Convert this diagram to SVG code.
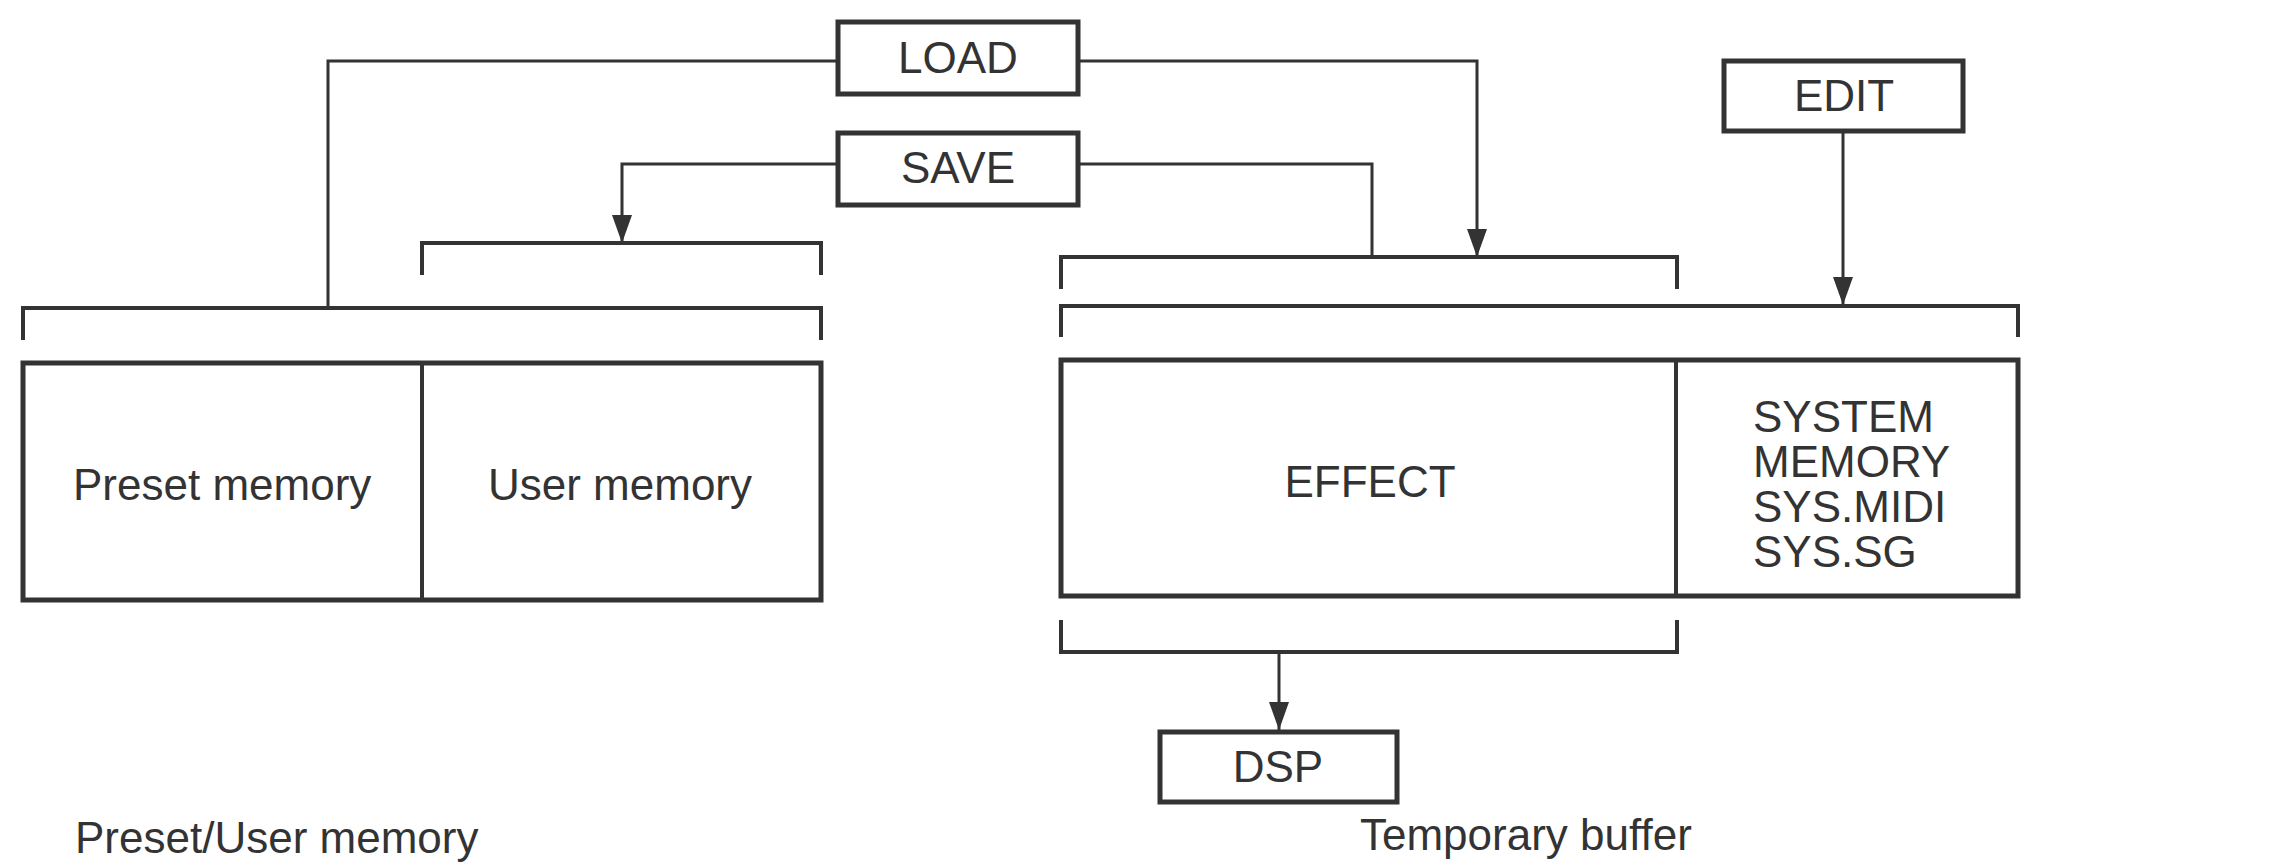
<svg xmlns="http://www.w3.org/2000/svg" width="2294" height="864" viewBox="0 0 2294 864">
<style>
  .box { fill: none; stroke: #333; stroke-width: 5; }
  .div { stroke: #333; stroke-width: 4; }
  .br { fill: none; stroke: #333; stroke-width: 4; }
  .cn { fill: none; stroke: #333; stroke-width: 3; }
  text { font-family: "Liberation Sans", Arial, sans-serif; font-size: 44px; fill: #333; }
  .c { text-anchor: middle; }
</style>
<defs>
  <marker id="arr" markerUnits="userSpaceOnUse" markerWidth="28" markerHeight="20" viewBox="0 0 28 20" refX="28" refY="10" orient="auto">
    <path d="M0,0 L28,10 L0,20 Z" fill="#333"/>
  </marker>
</defs>
<rect width="2294" height="864" fill="#fff"/>

<g id="connectors">
  <path class="cn" d="M838,61 H328 V308"/>
  <path class="cn" d="M838,164 H622 V243" marker-end="url(#arr)"/>
  <path class="cn" d="M1078,61 H1477 V257" marker-end="url(#arr)"/>
  <path class="cn" d="M1078,164 H1372 V257"/>
  <path class="cn" d="M1843,131 V305" marker-end="url(#arr)"/>
  <path class="cn" d="M1279,652 V730" marker-end="url(#arr)"/>

  <path class="br" d="M422,275 V243 H821 V275"/>
  <path class="br" d="M23,340 V308 H821 V340"/>
  <path class="br" d="M1061,289 V257 H1677 V289"/>
  <path class="br" d="M1061,337 V306 H2018 V337"/>
  <path class="br" d="M1061,620 V652 H1677 V620"/>
</g>

<g id="load">
  <rect class="box" x="838" y="22" width="240" height="72"/>
  <text class="c" x="958" y="73">LOAD</text>
</g>
<g id="save">
  <rect class="box" x="838" y="133" width="240" height="72"/>
  <text class="c" x="958" y="183">SAVE</text>
</g>
<g id="edit">
  <rect class="box" x="1724" y="61" width="239" height="70"/>
  <text class="c" x="1844" y="111">EDIT</text>
</g>

<g id="preset-user">
  <rect class="box" x="23" y="363" width="798" height="237"/>
  <line class="div" x1="422" y1="363" x2="422" y2="600"/>
</g>
<g id="preset-memory">
  <text x="73" y="500">Preset memory</text>
</g>
<g id="user-memory">
  <text x="488" y="500">User memory</text>
</g>

<g id="temporary-buffer">
  <rect class="box" x="1061" y="360" width="957" height="236"/>
  <line class="div" x1="1676" y1="360" x2="1676" y2="596"/>
</g>
<g id="effect">
  <text class="c" x="1370" y="497">EFFECT</text>
</g>
<g id="system">
  <text x="1753" y="432">SYSTEM</text>
  <text x="1753" y="477">MEMORY</text>
  <text x="1753" y="522">SYS.MIDI</text>
  <text x="1753" y="567">SYS.SG</text>
</g>

<g id="dsp">
  <rect class="box" x="1160" y="732" width="237" height="70"/>
  <text class="c" x="1278" y="782">DSP</text>
</g>

<g id="labels">
  <text x="75" y="853">Preset/User memory</text>
  <text x="1360" y="850">Temporary buffer</text>
</g>
</svg>
